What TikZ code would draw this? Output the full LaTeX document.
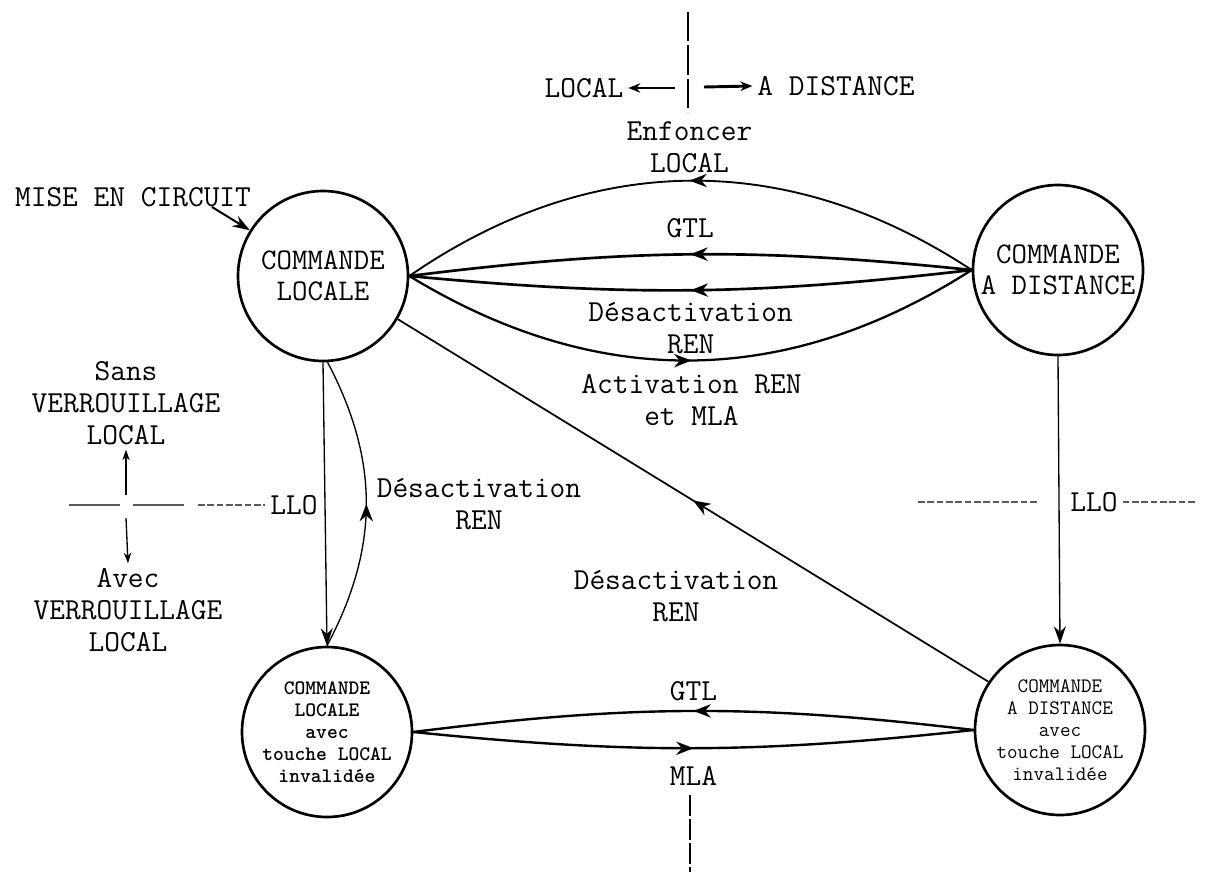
\documentclass[tikz,border=0pt]{standalone}
\usepackage{fontspec}
\usetikzlibrary{arrows.meta,decorations.markings}

\tikzset{every picture/.style={line width=0.75pt}}
\tikzset{
  etat/.style={draw, circle, line width=2pt, minimum size=127.5pt, inner sep=0pt, align=center, font=\ttfamily\fontsize{22.5}{23}\selectfont},
  etatpetit/.style={draw, circle, line width=2pt, minimum size=127.5pt, inner sep=0pt, align=center, font=\ttfamily\fontsize{15.4}{16.5}\selectfont},
  texte/.style={align=center, font=\ttfamily\fontsize{22.9}{24}\selectfont},
  pointe/.style={-{Stealth[length=13pt,width=9pt]}},
  petitepointe/.style={-{Stealth[length=8pt,width=5.5pt]}},
  flechemilieu/.style={postaction={decorate}, decoration={markings, mark=at position 0.5 with {\arrow{Stealth[length=13pt,width=10pt]}}}},
  tirets/.style={dash pattern=on 5pt off 2pt, line width=2pt, black!65},
  separation/.style={line width=1pt, dash pattern=on 22pt off 3pt},
}

\begin{document}
\begin{tikzpicture}[x=0.75pt,y=0.75pt,yscale=-1,xscale=1]
\useasboundingbox (0,0) rectangle (1208,872);

\node[etat] (CL) at (323,276) {COMMANDE\\LOCALE};
\node[etat] (CD) at (1058,270) {COMMANDE\\A DISTANCE};
\node[etatpetit, font=\ttfamily\fontsize{15.4}{16.5}\selectfont\bfseries] (CLV) at (327,732) {COMMANDE\\LOCALE\\avec\\touche LOCAL\\invalidée};
\node[etatpetit] (CDV) at (1060,730) {COMMANDE\\A DISTANCE\\avec\\touche LOCAL\\invalidée};

\node[texte] (mise) at (133,197) {MISE EN CIRCUIT};
\node[texte] (local) at (584,88) {LOCAL};
\node[texte] (distance) at (836,86) {A DISTANCE};
\node[texte] (sans) at (126,403) {Sans\\VERROUILLAGE\\LOCAL};
\node[texte] (avec) at (128,610) {Avec\\VERROUILLAGE\\LOCAL};
\node[texte] (llog) at (294,505) {LLO};
\node[texte] (llod) at (1094,502) {LLO};
\node[texte] (desdiag) at (676,596) {Désactivation\\REN};

\coordinate (hautA) at (688,12);
\coordinate (hautB) at (688,112);
\coordinate (basA) at (690,795);
\coordinate (basB) at (690,872);
\coordinate (versloc) at (675,88);
\coordinate (versdist) at (704,87);
\coordinate (depart) at (212,207);
\coordinate (tg1) at (69,505);
\coordinate (tg2) at (186,505);
\coordinate (tg3) at (198,505);
\coordinate (td1) at (918,502);
\coordinate (td2) at (1038,502);
\coordinate (td3) at (1197,502);
\coordinate (haut) at (126,495);
\coordinate (bas) at (126,518);

\draw[separation] (hautA) -- (hautB);
\draw[separation, dash pattern=on 16pt off 2pt] (basA) -- (basB);
\draw[line width=2.2pt, -{Stealth[length=9pt,width=7pt]}] (versloc) -- (local.east);
\draw[line width=2.2pt, -{Stealth[length=9pt,width=7pt]}] (versdist) -- (distance.west);
\draw[line width=1.5pt, pointe] (depart) -- (CL.148);

\draw[line width=1.4pt, flechemilieu] (CD.west) to[bend left=34] node[texte, above=2pt] (enfoncer) {Enfoncer\\LOCAL} (CL.east);
\draw[line width=2pt, flechemilieu] (CD.west) to[bend left=6.5] node[texte, above=8pt] (gtlhaut) {GTL} (CL.east);
\draw[line width=2pt, flechemilieu] (CD.west) to[bend right=6] node[texte, below=5pt] (deshaut) {Désactivation\\REN} (CL.east);
\draw[line width=1.7pt, flechemilieu] (CL.east) to[bend left=32] node[texte, below=6.5pt] (activ) {Activation REN\\et MLA} (CD.west);

\draw[line width=1pt, pointe] (CL.south) -- (CLV.north);
\draw[line width=1pt, flechemilieu] (CLV.north) to[bend left=28] node[texte, right=4pt] (desgauche) {Désactivation\\REN} (CL.-87);
\draw[line width=1pt, pointe] (CD.south) -- (CDV.north);
\draw[line width=1.3pt, flechemilieu] (CDV.146) -- (CL.-30);

\draw[line width=1.8pt, flechemilieu] (CDV.west) to[bend left=7] node[texte, above=3.5pt] (gtlbas) {GTL} (CLV.east);
\draw[line width=1.8pt, flechemilieu] (CLV.east) to[bend left=6] node[texte, below=9.5pt] (mla) {MLA} (CDV.west);

\draw[tirets, dash pattern=on 38pt off 10pt] (tg1) -- (tg2);
\draw[tirets] (tg3) -- (llog.west);
\draw[tirets] (td1) -- (td2);
\draw[tirets] (llod.east) -- (td3);
\draw[line width=1pt, petitepointe] (haut) -- (sans.south);
\draw[line width=1pt, petitepointe] (bas) -- (avec.north);
\end{tikzpicture}
\end{document}
